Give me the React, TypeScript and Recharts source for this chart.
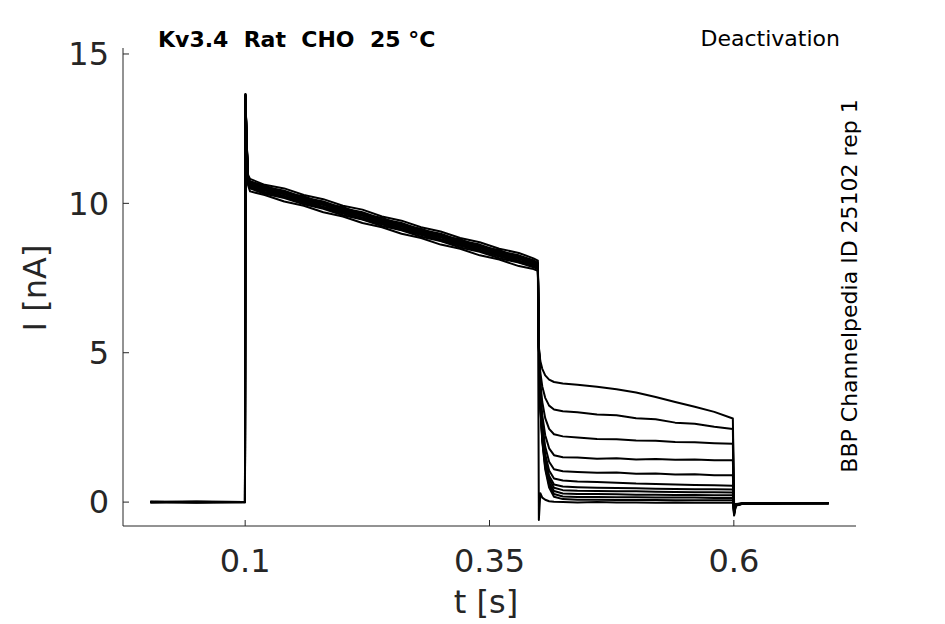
import React from 'react';
import { LineChart, Line, XAxis, YAxis } from 'recharts';

// sample times in seconds
const TIME = [
  0.003, 0.05, 0.0998,
  0.1003, 0.1015, 0.103, 0.105, 0.12, 0.14, 0.16, 0.18, 0.2, 0.22, 0.24, 0.26, 0.28, 0.3, 0.32, 0.34, 0.36, 0.38, 0.395, 0.3995,
  0.4005, 0.402, 0.404, 0.407, 0.411, 0.416, 0.425, 0.44, 0.46, 0.48, 0.5, 0.52, 0.54, 0.56, 0.58, 0.599,
  0.6003, 0.602, 0.61, 0.65, 0.697,
];

// one array per sweep (nA): baseline | test pulse | tail | return
const SWEEP_A = [
  0, 0.01, 0,
  13.62, 12.05, 10.72, 10.58, 10.38, 10.25, 10.02, 9.88, 9.66, 9.53, 9.31, 9.17, 8.95, 8.8, 8.58, 8.45, 8.22, 8.08, 7.92, 7.85,
  5.2, 4.72, 4.46, 4.24, 4.1, 4.02, 3.97, 3.93, 3.86, 3.78, 3.67, 3.52, 3.35, 3.19, 3.02, 2.8,
  -0.15, -0.06, -0.04, -0.03, -0.04,
];
const SWEEP_B = [
  0.01, -0.01, 0,
  13.58, 12.1, 10.85, 10.72, 10.6, 10.34, 10.24, 9.98, 9.88, 9.62, 9.52, 9.26, 9.15, 8.9, 8.8, 8.54, 8.44, 8.18, 8.08, 7.98,
  5.2, 4.34, 3.87, 3.49, 3.23, 3.1, 3.04, 3.01, 2.93, 2.91, 2.81, 2.77, 2.66, 2.62, 2.52, 2.45,
  -0.18, -0.07, -0.04, -0.04, -0.03,
];
const SWEEP_C = [
  0, 0, 0.01,
  13.66, 11.95, 10.78, 10.62, 10.44, 10.3, 10.08, 9.94, 9.72, 9.58, 9.36, 9.22, 9.0, 8.86, 8.64, 8.5, 8.28, 8.14, 7.97, 7.88,
  5.2, 4.0, 3.35, 2.81, 2.45, 2.27, 2.2, 2.16, 2.11, 2.1, 2.06, 2.05, 2.01, 2.0, 1.97, 1.95,
  -0.2, -0.07, -0.05, -0.04, -0.04,
];
const SWEEP_D = [
  -0.01, 0.01, 0,
  13.55, 12.08, 10.95, 10.82, 10.62, 10.5, 10.28, 10.14, 9.92, 9.79, 9.56, 9.42, 9.2, 9.06, 8.84, 8.7, 8.48, 8.34, 8.16, 8.08,
  5.2, 3.72, 2.91, 2.24, 1.8, 1.57, 1.5, 1.49, 1.45, 1.47, 1.43, 1.44, 1.42, 1.43, 1.4, 1.4,
  -0.22, -0.08, -0.05, -0.04, -0.03,
];
const SWEEP_E = [
  0, -0.01, 0,
  13.6, 11.9, 10.65, 10.5, 10.32, 10.18, 9.97, 9.82, 9.6, 9.46, 9.24, 9.1, 8.88, 8.74, 8.52, 8.38, 8.16, 8.02, 7.86, 7.8,
  5.2, 3.53, 2.61, 1.86, 1.35, 1.1, 1.03, 1.01, 0.98, 0.99, 0.95, 0.96, 0.92, 0.93, 0.9, 0.9,
  -0.25, -0.08, -0.05, -0.04, -0.04,
];
const SWEEP_F = [
  0.01, 0, 0,
  13.64, 12.02, 10.8, 10.66, 10.5, 10.32, 10.16, 9.96, 9.8, 9.6, 9.44, 9.24, 9.08, 8.88, 8.72, 8.52, 8.36, 8.16, 8.04, 7.94,
  5.2, 3.4, 2.41, 1.6, 1.06, 0.79, 0.72, 0.69, 0.67, 0.65, 0.62, 0.61, 0.59, 0.57, 0.56, 0.55,
  -0.28, -0.09, -0.05, -0.04, -0.04,
];
const SWEEP_G = [
  0, 0.01, -0.01,
  13.57, 11.98, 10.7, 10.54, 10.36, 10.2, 10.03, 9.84, 9.67, 9.47, 9.3, 9.11, 8.95, 8.75, 8.59, 8.4, 8.23, 8.03, 7.9, 7.82,
  5.2, 3.32, 2.29, 1.44, 0.88, 0.59, 0.52, 0.5, 0.48, 0.47, 0.46, 0.45, 0.44, 0.43, 0.43, 0.42,
  -0.3, -0.09, -0.05, -0.04, -0.03,
];
const SWEEP_H = [
  0, 0, 0,
  13.63, 12.06, 10.82, 10.7, 10.52, 10.38, 10.17, 10.02, 9.81, 9.66, 9.45, 9.3, 9.09, 8.94, 8.73, 8.58, 8.37, 8.22, 8.06, 7.96,
  5.2, 3.27, 2.21, 1.34, 0.77, 0.48, 0.4, 0.38, 0.37, 0.36, 0.36, 0.35, 0.34, 0.33, 0.33, 0.32,
  -0.33, -0.1, -0.05, -0.04, -0.04,
];
const SWEEP_I = [
  0.01, -0.01, 0,
  13.52, 11.92, 10.6, 10.4, 10.28, 10.06, 9.92, 9.7, 9.56, 9.34, 9.2, 8.98, 8.84, 8.62, 8.48, 8.26, 8.12, 7.9, 7.8, 7.74,
  5.2, 3.23, 2.14, 1.26, 0.66, 0.37, 0.29, 0.27, 0.27, 0.26, 0.25, 0.25, 0.24, 0.24, 0.23, 0.23,
  -0.36, -0.1, -0.05, -0.04, -0.04,
];
const SWEEP_J = [
  0, 0.01, 0,
  13.6, 12.0, 10.76, 10.64, 10.46, 10.34, 10.12, 9.98, 9.76, 9.62, 9.4, 9.26, 9.04, 8.9, 8.68, 8.54, 8.32, 8.18, 8.02, 7.92,
  5.2, 3.19, 2.08, 1.18, 0.57, 0.27, 0.19, 0.17, 0.17, 0.16, 0.16, 0.15, 0.15, 0.15, 0.14, 0.14,
  -0.38, -0.1, -0.05, -0.04, -0.03,
];
const SWEEP_K = [
  -0.01, 0, 0,
  13.58, 11.96, 10.74, 10.56, 10.44, 10.24, 10.08, 9.88, 9.72, 9.52, 9.36, 9.16, 9.0, 8.8, 8.64, 8.44, 8.28, 8.08, 7.95, 7.86,
  5.2, 3.15, 2.03, 1.1, 0.49, 0.18, 0.1, 0.08, 0.08, 0.07, 0.07, 0.07, 0.06, 0.06, 0.06, 0.06,
  -0.42, -0.11, -0.05, -0.04, -0.04,
];
const SWEEP_L = [
  0, 0, 0,
  13.65, 12.1, 10.86, 10.74, 10.56, 10.42, 10.2, 10.06, 9.84, 9.7, 9.48, 9.34, 9.12, 8.98, 8.76, 8.62, 8.4, 8.26, 8.1, 8.0,
  -0.6, 0.3, 0.15, 0.08, 0.03, 0.01, 0.0, -0.01, 0.0, -0.01, -0.01, -0.02, -0.01, -0.02, -0.02, -0.02,
  -0.45, -0.12, -0.05, -0.04, -0.04,
];

const SWEEPS = [SWEEP_A, SWEEP_B, SWEEP_C, SWEEP_D, SWEEP_E, SWEEP_F, SWEEP_G, SWEEP_H, SWEEP_I, SWEEP_J, SWEEP_K, SWEEP_L];

const X_TICKS = [0.1, 0.35, 0.6];
const Y_TICKS = [0, 5, 10, 15];

const rows = TIME.map((t, i) => {
  const r: Record<string, number> = { t };
  SWEEPS.forEach((s, k) => {
    r['s' + k] = s[i];
  });
  return r;
});

const FONT = '"DejaVu Sans", sans-serif';
const AXIS = '#262626';

export default function App() {
  return (
    <div style={{ position: 'absolute', left: 0, top: 0, width: 945, height: 624, background: '#fff' }}>
      <LineChart width={945} height={624} data={rows} margin={{ top: 48, right: 89, bottom: 38, left: 63 }}>
        <XAxis
          dataKey="t"
          type="number"
          domain={[-0.025, 0.725]}
          ticks={X_TICKS}
          allowDataOverflow
          height={60}
          stroke={AXIS}
          tickSize={-6}
          tickMargin={29}
          tick={{ fill: AXIS, fontSize: 32, fontFamily: FONT }}
        />
        <YAxis
          type="number"
          domain={[-0.8, 15.2]}
          ticks={Y_TICKS}
          allowDataOverflow
          width={60}
          stroke={AXIS}
          tickSize={-6}
          tickMargin={20}
          tick={{ fill: AXIS, fontSize: 32, fontFamily: FONT }}
        />
        {SWEEPS.map((_, k) => (
          <Line
            key={k}
            dataKey={'s' + k}
            type="linear"
            stroke="#000"
            strokeWidth={2}
            strokeLinejoin="round"
            dot={false}
            activeDot={false}
            isAnimationActive={false}
          />
        ))}
      </LineChart>
      <svg width={945} height={624} style={{ position: 'absolute', left: 0, top: 0, pointerEvents: 'none' }}>
        <text x={158} y={47} fontFamily={FONT} fontSize={22} fontWeight="bold" fill="#000" style={{ whiteSpace: 'pre' }}>
          Kv3.4  Rat  CHO  25 °C
        </text>
        <text x={840} y={46} fontFamily={FONT} fontSize={22} fill="#000" textAnchor="end">
          Deactivation
        </text>
        <text transform="translate(857,286) rotate(-90)" fontFamily={FONT} fontSize={22} fill="#000" textAnchor="middle">
          BBP Channelpedia ID 25102 rep 1
        </text>
        <text transform="translate(46,288) rotate(-90)" fontFamily={FONT} fontSize={32} fill={AXIS} textAnchor="middle">
          I [nA]
        </text>
        <text x={486} y={613} fontFamily={FONT} fontSize={32} fill={AXIS} textAnchor="middle">
          t [s]
        </text>
      </svg>
    </div>
  );
}
